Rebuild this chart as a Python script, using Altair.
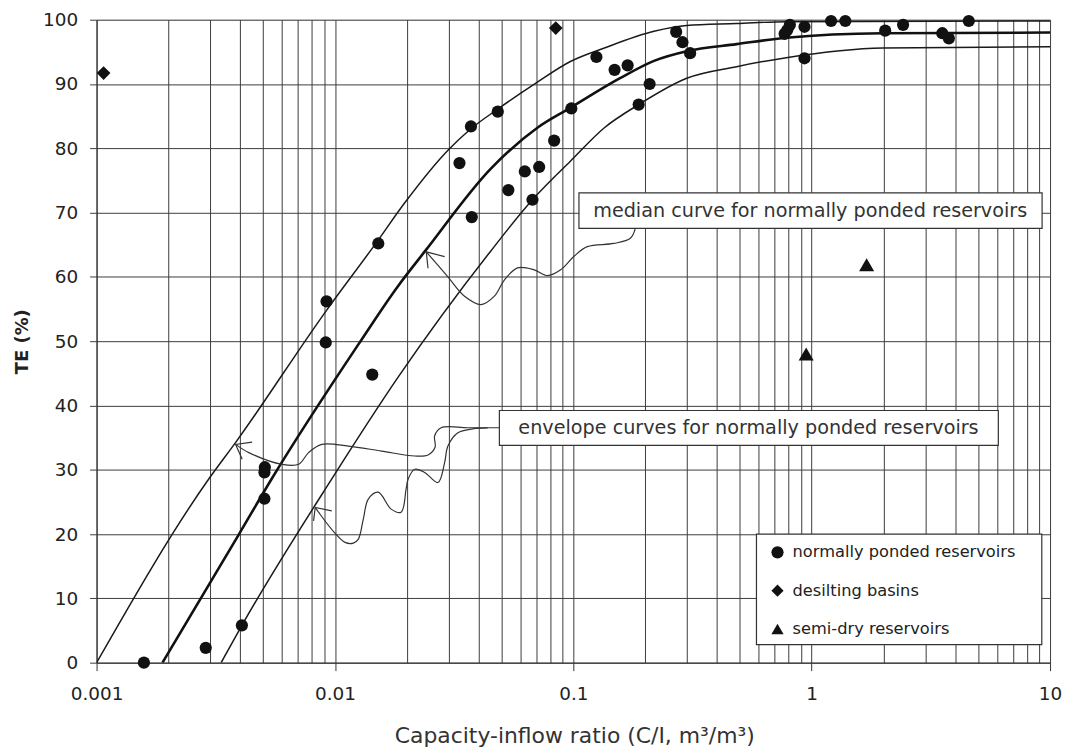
import altair as alt
import pandas as pd

FONT = "DejaVu Sans"

# ---- curves (C/I ratio, TE %) ----
upper_x = [0.001, 0.00296, 0.00384, 0.00922, 0.0149, 0.0197, 0.0298, 0.0371, 0.0482,
           0.0694, 0.0972, 0.135, 0.218, 0.299, 0.484, 0.782, 10]
upper_te = [0, 28.6, 34.3, 54.8, 65.3, 71.6, 79.7, 83.0, 86.1,
            90.1, 93.5, 95.6, 98.2, 99.1, 99.4, 99.7, 99.8]

median_x = [0.00189, 0.00396, 0.00543, 0.01254, 0.01841, 0.02387, 0.0450, 0.0707,
            0.0972, 0.157, 0.218, 0.299, 0.484, 0.782, 1.99, 10]
median_te = [0, 20, 28.6, 49.5, 58.6, 64.0, 76.8, 83.2,
             86.3, 90.9, 93.6, 95.1, 96.2, 97.2, 97.9, 98.0]

lower_x = [0.00333, 0.00407, 0.00967, 0.01841, 0.0450, 0.0674, 0.0857, 0.0972,
           0.135, 0.188, 0.299, 0.484, 0.782, 1.99, 10]
lower_te = [0, 5.8, 28.5, 44.4, 64.0, 72.0, 76.0, 78.0,
            83.2, 86.8, 90.9, 92.7, 94.1, 95.6, 95.8]

# ---- observations ----
ponded_x = [0.00158, 0.00287, 0.00407, 0.00506, 0.00506, 0.00508, 0.00915, 0.00922,
            0.01434, 0.0152, 0.0333, 0.0372, 0.0375, 0.0482, 0.0534, 0.0626, 0.0674,
            0.0719, 0.0831, 0.0981, 0.125, 0.149, 0.169, 0.188, 0.209, 0.270, 0.287,
            0.309, 0.77, 0.79, 0.81, 0.933, 0.933, 1.206, 1.384, 2.034, 2.418, 3.531,
            3.763, 4.56]
ponded_te = [0, 2.3, 5.8, 25.5, 29.6, 30.4, 49.8, 56.2,
             44.8, 65.2, 77.7, 83.4, 69.3, 85.7, 73.5, 76.4, 72.0,
             77.1, 81.2, 86.2, 94.2, 92.2, 92.9, 86.8, 90.0, 98.1, 96.5,
             94.8, 97.8, 98.4, 99.2, 98.9, 94.0, 99.8, 99.8, 98.3, 99.2, 97.9,
             97.1, 99.8]
desilting_x = [0.00107, 0.0844]
desilting_te = [91.7, 98.7]
semidry_x = [0.948, 1.700]
semidry_te = [48.0, 61.9]

types = ["normally ponded reservoirs", "desilting basins", "semi-dry reservoirs"]

# ---- annotation boxes, texts and leader lines (data coordinates) ----
ann_text = ["median curve for normally ponded reservoirs",
            "envelope curves for normally ponded reservoirs"]
ann_x = [0.9856, 0.5431]
ann_te = [70.3, 36.5]

box_x = [0.1056, 0.04896, 0.5866]
box_x2 = [9.26, 6.066, 9.233]
box_te = [67.55, 33.80, 2.79]
box_te2 = [73.07, 39.22, 20.0]

lead_median_x = [0.02416, 0.02978, 0.03497, 0.04102, 0.04665, 0.05135, 0.05836, 0.06853,
                 0.07788, 0.08851, 0.1007, 0.1144, 0.1479, 0.1735, 0.1820]
lead_median_te = [63.9, 60.0, 57.0, 55.7, 57.0, 59.5, 61.4, 61.1,
                  60.2, 61.1, 63.2, 64.7, 65.2, 66.0, 67.55]
arrow_median_x = [0.02885, 0.02416, 0.02457]
arrow_median_te = [63.15, 63.9, 61.35]

lead_env_up_x = [0.003831, 0.004353, 0.005997, 0.007041, 0.00775, 0.008808, 0.01139,
                 0.01568, 0.02162, 0.02457, 0.0263, 0.0262, 0.02792, 0.03609, 0.04896]
lead_env_up_te = [33.95, 32.67, 30.85, 30.85, 32.67, 33.95, 33.69,
                  32.91, 32.14, 32.3, 33.5, 35.3, 36.54, 36.54, 36.54]
arrow_env_up_x = [0.004494, 0.003831, 0.004082]
arrow_env_up_te = [34.3, 33.95, 31.63]

lead_env_lo_x = [0.008267, 0.008533, 0.00967, 0.01103, 0.01195, 0.01254, 0.01315, 0.0138,
                 0.01519, 0.01721, 0.01895, 0.01988, 0.02027, 0.02162, 0.0238, 0.02705,
                 0.02885, 0.02978, 0.03279, 0.03787, 0.04375]
lead_env_lo_te = [24.14, 23.41, 20.78, 18.71, 18.60, 19.22, 22.33, 25.43,
                  26.51, 23.88, 23.41, 26.98, 28.53, 30.08, 29.57, 28.02,
                  31.12, 33.69, 35.77, 36.36, 36.51]
arrow_env_lo_x = [0.009697, 0.008267, 0.008133]
arrow_env_lo_te = [23.61, 24.14, 22.06]

# ---- tables ----
curves = pd.concat([
    pd.DataFrame({"curve": "upper", "x": upper_x, "te": upper_te}),
    pd.DataFrame({"curve": "lower", "x": lower_x, "te": lower_te}),
])
median = pd.DataFrame({"x": median_x, "te": median_te})
ponded = pd.DataFrame({"type": types[0], "x": ponded_x, "te": ponded_te})
desilting = pd.DataFrame({"type": types[1], "x": desilting_x, "te": desilting_te})
semidry = pd.DataFrame({"type": types[2], "x": semidry_x, "te": semidry_te})
boxes = pd.DataFrame({"x": box_x, "x2": box_x2, "te": box_te, "te2": box_te2})
texts = pd.DataFrame({"label": ann_text, "x": ann_x, "te": ann_te})


def path_table(parts):
    return pd.concat([
        pd.DataFrame({"g": g, "x": xs, "te": ts, "o": list(range(len(xs)))})
        for g, xs, ts in parts
    ])


leaders = path_table([
    ("m", lead_median_x, lead_median_te),
    ("u", lead_env_up_x, lead_env_up_te),
    ("l", lead_env_lo_x, lead_env_lo_te),
])
arrows = path_table([
    ("ma", arrow_median_x, arrow_median_te),
    ("ua", arrow_env_up_x, arrow_env_up_te),
    ("la", arrow_env_lo_x, arrow_env_lo_te),
])

# ---- scales and axes ----
grid_vals = [float(f"{m}e{e}") for e in range(-3, 1) for m in range(1, 10)] + [10.0]
DECADE = "abs(log(datum.value)/LN10 - round(log(datum.value)/LN10)) < 1e-6"

xscale = alt.Scale(type="log", domain=[0.001, 10], nice=False)
yscale = alt.Scale(domain=[0, 100], nice=False, zero=False)

xaxis = alt.Axis(
    values=grid_vals, grid=True, gridColor="#3c3c3c", gridWidth=1,
    tickSize=8, tickColor={"condition": {"test": DECADE, "value": "#333"}, "value": "transparent"},
    labelExpr=f"{DECADE} ? format(datum.value, '~g') : ''",
    labelFlush=False, labelOverlap=False, labelFont=FONT, labelFontSize=18.5,
    labelColor="#222", labelPadding=14, domainColor="#333",
    title="Capacity-inflow ratio (C/I, m³/m³)", titleFont=FONT, titleFontSize=22,
    titleFontWeight="normal", titleColor="#333", titleX=480, titleY=80,
    titleBaseline="alphabetic", titleAlign="center",
)
yaxis = alt.Axis(
    values=list(range(0, 101, 10)), grid=True, gridColor="#3c3c3c", gridWidth=1,
    tickSize=7, tickColor="#3c3c3c", labelFont=FONT, labelFontSize=18.5,
    labelColor="#222", labelPadding=12, domainColor="#333",
    title="TE (%)", titleFont=FONT, titleFontSize=18, titleFontWeight="bold",
    titleColor="#222", titleX=-74, titleY=323, titleAngle=270,
    titleAlign="center", titleBaseline="middle",
)

legend = alt.Legend(orient="none", legendX=676, legendY=527, title=None,
                    labelFont=FONT, labelFontSize=16.3, labelColor="#222", labelLimit=500,
                    symbolSize=150, rowPadding=21.5, labelOffset=7, padding=0,
                    symbolStrokeWidth=0, symbolFillColor="#111", zindex=2)
shape_enc = alt.Shape("type:N", scale=alt.Scale(domain=types, range=["circle", "diamond", "triangle-up"]),
                      legend=legend)


def X(f="x"):
    return alt.X(f"{f}:Q", scale=xscale, axis=xaxis)


def Y(f="te"):
    return alt.Y(f"{f}:Q", scale=yscale, axis=yaxis)


env_layer = alt.Chart(curves).mark_line(
    color="#1a1a1a", strokeWidth=1.5, interpolate="monotone", clip=True
).encode(x=X(), y=Y(), detail="curve:N")

median_layer = alt.Chart(median).mark_line(
    color="#111", strokeWidth=2.6, interpolate="monotone", clip=True
).encode(x=X(), y=Y())


def point_layer(df, size):
    return alt.Chart(df).mark_point(filled=True, color="#111", opacity=1, size=size).encode(
        x=X(), y=Y(), shape=shape_enc
    )


boxes_layer = alt.Chart(boxes).mark_rect(fill="white", stroke="#333", strokeWidth=1.2).encode(
    x=X(), x2="x2:Q", y=Y(), y2="te2:Q"
)

text_layer = alt.Chart(texts).mark_text(
    font=FONT, fontSize=19.3, color="#333", align="center", baseline="middle"
).encode(x=X(), y=Y(), text="label:N")

lead_layer = alt.Chart(leaders).mark_line(color="#333", strokeWidth=1.2, interpolate="catmull-rom").encode(
    x=X(), y=Y(), detail="g:N", order="o:Q"
)
arrow_layer = alt.Chart(arrows).mark_line(color="#333", strokeWidth=1.2).encode(
    x=X(), y=Y(), detail="g:N", order="o:Q"
)

chart = alt.layer(
    env_layer, median_layer,
    point_layer(ponded, 150), point_layer(desilting, 190), point_layer(semidry, 230),
    boxes_layer, text_layer, lead_layer, arrow_layer
).properties(
    width=958, height=646,
    autosize=alt.AutoSizeParams(type="none"),
    padding={"left": 89, "top": 10, "right": 12, "bottom": 88},
).configure_view(stroke="#333", strokeWidth=1).configure(background="white")

chart.save("out.html", embed_options={"renderer": "svg", "actions": False})
